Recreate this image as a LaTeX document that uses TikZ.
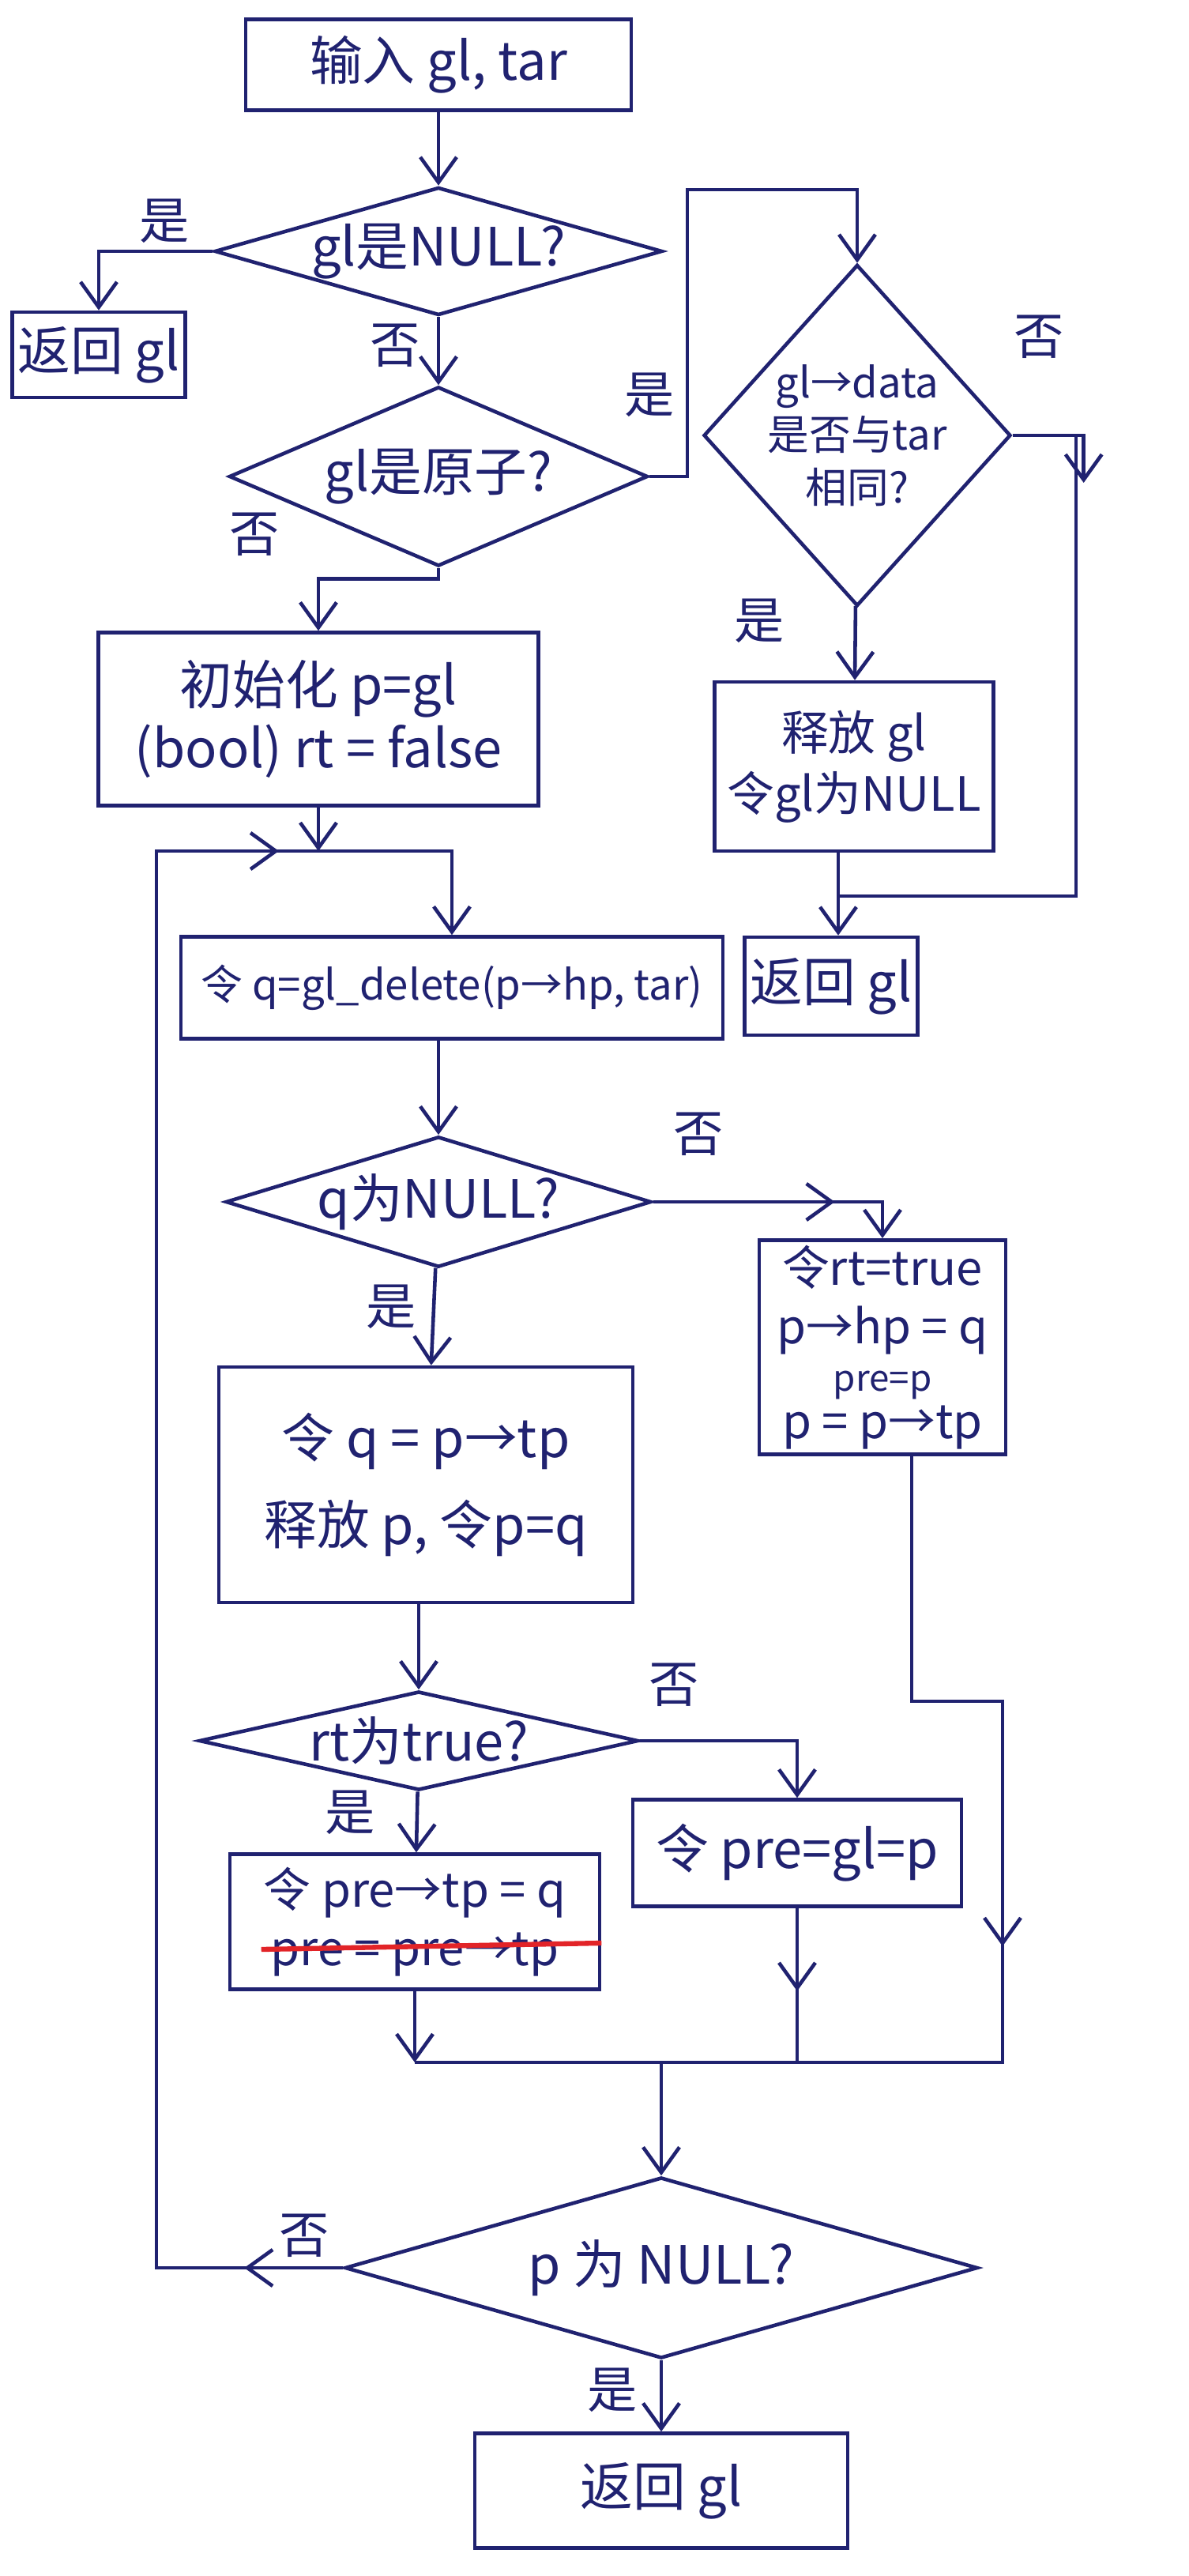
\documentclass[tikz,border=0pt]{standalone}
\usepackage{fontspec}
\setmainfont{Noto Sans CJK SC}
\usepackage{tikz}
\usetikzlibrary{arrows}
\usetikzlibrary{arrows.meta}
\usetikzlibrary{positioning}
\usetikzlibrary{shapes}
\definecolor{ink}{RGB}{32,34,112}
\definecolor{strikered}{RGB}{226,36,40}

\begin{document}
\begin{tikzpicture}
	[proc/.style={rectangle,draw=ink,line width=1.3pt,inner sep=2pt,text=ink,align=center,font=\fontsize{19}{23}\selectfont},
	cond/.style={diamond,draw=ink,line width=1.3pt,inner sep=0pt,text=ink,align=center,font=\fontsize{19}{23}\selectfont},
	on/.style={->,>={Straight Barb[length=3.2mm,width=4.6mm]},draw=ink,line width=1.3pt},
	wire/.style={draw=ink,line width=1.3pt},
	tag/.style={text=ink,font=\fontsize{18}{21}\selectfont},
	strike/.style={draw=strikered,line width=1.8pt}]

\useasboundingbox (0,0) rectangle (15.04,-32.60);
\fill[white] (0,0) rectangle (15.04,-32.60);

% Start %
\node[proc,minimum width=4.88cm,minimum height=1.15cm] (in) at (5.55,-0.82) {输入 gl, tar};
\node[cond,aspect=3.5,minimum width=5.12cm,minimum height=1.45cm] (c1) at (5.55,-3.18) {gl是NULL?};
\node[proc,minimum width=2.16cm,minimum height=1.08cm] (ret1) at (1.25,-4.49) {返回 gl};
\node[cond,aspect=2.33,minimum width=5.30cm,minimum height=2.27cm] (c2) at (5.55,-6.03) {gl是原子?};

% Atom %
\node[cond,aspect=0.9,minimum width=3.75cm,minimum height=4.17cm,font=\fontsize{15}{19}\selectfont] (c3) at (10.85,-5.51) {gl→data\\是否与tar\\相同?};
\node[proc,minimum width=3.53cm,minimum height=2.14cm,font=\fontsize{17}{22}\selectfont] (free) at (10.81,-9.70) {释放 gl\\令gl为NULL};
\node[proc,minimum width=2.04cm,minimum height=1.24cm] (ret2) at (10.52,-12.48) {返回 gl};

% Loop body %
\node[proc,minimum width=5.57cm,minimum height=2.19cm] (init) at (4.03,-9.10) {初始化 p=gl\\(bool) rt = false};
\node[proc,minimum width=6.86cm,minimum height=1.29cm,font=\fontsize{15}{18}\selectfont] (del) at (5.72,-12.50) {令 q=gl\_delete(p→hp, tar)};
\node[cond,aspect=3.26,minimum width=4.95cm,minimum height=1.52cm] (c4) at (5.55,-15.21) {q为NULL?};
\node[proc,minimum width=3.12cm,minimum height=2.60cm,font=\fontsize{17}{21}\selectfont] (upd) at (11.17,-17.05) {令rt=true\\p→hp = q\\[-4pt]{\fontsize{13}{14}\selectfont pre=p}\\[-4pt]p = p→tp};
\node[proc,minimum width=5.24cm,minimum height=2.98cm] (nxt) at (5.39,-18.79) {令 q = p→tp\\[0.3cm]释放 p, 令p=q};
\node[cond,aspect=4.45,minimum width=5.56cm,minimum height=1.25cm] (c6) at (5.30,-22.03) {rt为true?};
\node[proc,minimum width=4.68cm,minimum height=1.71cm,font=\fontsize{17}{21}\selectfont] (tpn) at (5.25,-24.32) {令 pre→tp = q\\pre = pre→tp};
\node[proc,minimum width=4.16cm,minimum height=1.35cm] (pg) at (10.09,-23.45) {令 pre=gl=p};

% End %
\node[cond,aspect=3.5,minimum width=8.01cm,minimum height=2.29cm] (c5) at (8.37,-28.70) {p 为 NULL?};
\node[proc,minimum width=4.72cm,minimum height=1.45cm] (ret3) at (8.37,-31.52) {返回 gl};

% Knicks %
\coordinate (k1) at (8.70,-2.40);
\coordinate (k2) at (13.62,-11.34);
\coordinate (k3) at (10.61,-11.34);
\coordinate (j1) at (4.03,-10.77);
\coordinate (lp1) at (1.98,-28.70);
\coordinate (lp2) at (1.98,-10.77);
\coordinate (r1) at (11.54,-21.53);
\coordinate (r2) at (12.69,-21.53);
\coordinate (r3) at (12.69,-26.10);
\coordinate (mg) at (8.37,-26.10);

% Pfeile %
\draw[on] (in) -- (c1);
\draw[on] (c1.west) -| (ret1.north);
\draw[on] (c1) -- (c2);
\draw[on] (c2.east) -| (k1) -| (c3.north);
\draw[on] (c3.east) -| ++(0.9,-0.6);
\draw[wire] (c3.east) -| (k2) -- (k3);
\draw[on] (c3) -- (free);
\draw[on] (free.south -| k3) -- (ret2.north -| k3);
\draw[on] (c2.south) -- ++(0,-0.14) -| (init.north);
\draw[on] (init.south) -- (j1);
\draw[on] (j1) -| (del.north);
\draw[on] (del.south -| c4.north) -- (c4.north);
\draw[on] (c4.east) -- ++(2.3,0);
\draw[on] (c4.east) -| (upd.north);
\draw[on] (c4) -- (nxt);
\draw[on] (nxt.south -| c6.north) -- (c6.north);
\draw[on] (c6.east) -| (pg.north);
\draw[on] (c6) -- (tpn);
\draw[on] (tpn.south) -- (tpn.south |- r3);
\draw[on] (pg.south) -- ++(0,-1.05);
\draw[wire] (pg.south) -- (pg.south |- r3);
\draw[wire] (upd.south -| r1) -- (r1) -- (r2) -- (r3) -- (tpn.south |- r3);
\draw[on] (r2) -- ++(0,-3.1);
\draw[on] (mg) -- (c5.north);
\draw[on] (c5) -- (ret3);
\draw[on] (c5.west) -- ++(-1.25,0);
\draw[wire] (c5.west) -- (lp1) -- (lp2) -- (j1);
\draw[on] (lp2) -- ++(1.55,0);

% Streichung %
\draw[strike] ([shift={(0.42,-0.35)}]tpn.west) -- ([shift={(0,-0.27)}]tpn.east);

% Labels %
\node[tag] (y1) at (2.08,-2.80) {是};
\node[tag] (n1) at (5.00,-4.37) {否};
\node[tag] (y2) at (8.22,-5.00) {是};
\node[tag] (n3) at (13.15,-4.26) {否};
\node[tag] (y3) at (9.61,-7.86) {是};
\node[tag] (n2) at (3.22,-6.76) {否};
\node[tag] (n4) at (8.84,-14.35) {否};
\node[tag] (y4) at (4.95,-16.54) {是};
\node[tag] (n6) at (8.53,-21.32) {否};
\node[tag] (y6) at (4.43,-22.94) {是};
\node[tag] (n5) at (3.85,-28.29) {否};
\node[tag] (y5) at (7.75,-30.25) {是};
\end{tikzpicture}
\end{document}
